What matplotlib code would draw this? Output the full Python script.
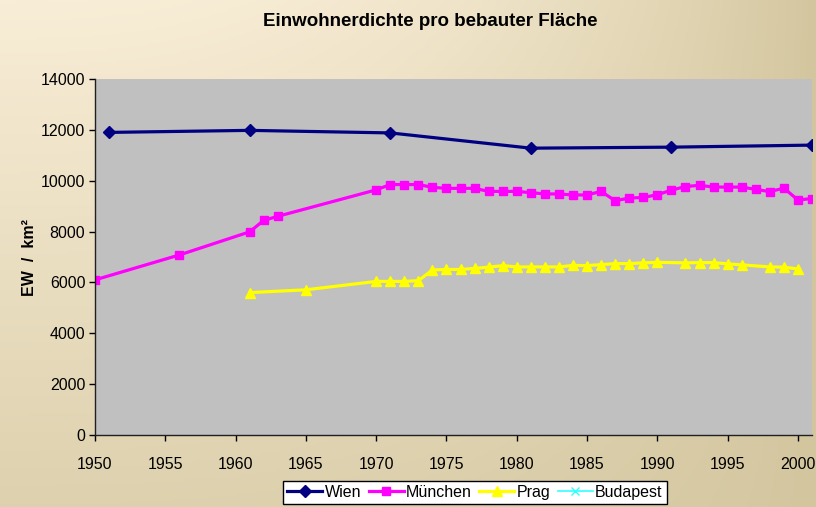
import numpy as np
import matplotlib
matplotlib.use("Agg")
import matplotlib.pyplot as plt
from matplotlib.colors import LinearSegmentedColormap

plt.rcParams['font.family'] = ['Liberation Sans', 'DejaVu Sans']

# ---- data ----
wien_years = [1951, 1961, 1971, 1981, 1991, 2001]
wien_vals = [11900, 11980, 11880, 11280, 11320, 11400]

muc_years = [1950, 1956, 1961, 1962, 1963, 1970, 1971, 1972, 1973, 1974, 1975, 1976,
             1977, 1978, 1979, 1980, 1981, 1982, 1983, 1984, 1985, 1986, 1987, 1988,
             1989, 1990, 1991, 1992, 1993, 1994, 1995, 1996, 1997, 1998, 1999, 2000, 2001]
muc_vals = [6100, 7080, 7990, 8440, 8600, 9640, 9850, 9850, 9850, 9740, 9700, 9700,
            9700, 9580, 9580, 9580, 9530, 9480, 9480, 9440, 9440, 9580, 9210, 9320,
            9340, 9450, 9630, 9770, 9820, 9750, 9750, 9750, 9660, 9570, 9710, 9240, 9300]

prag_years = [1961, 1965, 1970, 1971, 1972, 1973, 1974, 1975, 1976, 1977, 1978, 1979,
              1980, 1981, 1982, 1983, 1984, 1985, 1986, 1987, 1988, 1989, 1990, 1992,
              1993, 1994, 1995, 1996, 1998, 1999, 2000]
prag_vals = [5600, 5710, 6040, 6040, 6040, 6070, 6490, 6510, 6510, 6550, 6600, 6660,
             6610, 6610, 6610, 6610, 6670, 6660, 6700, 6740, 6740, 6770, 6790, 6770,
             6780, 6780, 6730, 6690, 6610, 6600, 6530]

buda_years = []
buda_vals = []

# ---- figure with gradient background ----
fig = plt.figure(figsize=(8.16, 5.07), dpi=100)
bg = fig.add_axes([0, 0, 1, 1], zorder=-10)
xx, yy = np.meshgrid(np.linspace(0, 1, 300), np.linspace(0, 1, 200))
t = 1 - (1 - xx ** 2.5) * (1 - 0.72 * yy)
cmap = LinearSegmentedColormap.from_list('bg', ['#F8EDD6', '#D3C69F'])
bg.imshow(t, cmap=cmap, aspect='auto', extent=[0, 1, 0, 1], origin='upper')
bg.axis('off')

ax = fig.add_axes([95 / 816, 1 - 435 / 507, (812 - 95) / 816, (435 - 79) / 507])
ax.set_facecolor('#C0C0C0')

ax.plot(wien_years, wien_vals, color='#000080', marker='D', markersize=6, lw=2.3, label='Wien')
ax.plot(muc_years, muc_vals, color='#FF00FF', marker='s', markersize=6, lw=2.3, label='München')
ax.plot(prag_years, prag_vals, color='#FFFF00', marker='^', markersize=6.5, lw=2.3, label='Prag')
ax.plot(buda_years, buda_vals, color='#33FFFF', marker='x', markersize=6, lw=1.2, label='Budapest')

ax.set_xlim(1950, 2001)
ax.set_ylim(0, 14000)
ax.set_xticks(range(1950, 2001, 5))
ax.set_yticks(range(0, 14001, 2000))
ax.tick_params(axis='both', direction='out', length=4, width=1, labelsize=11.5, colors='black')
ax.tick_params(axis='x', pad=12)
ax.tick_params(axis='y', pad=3)
for s in ['top', 'right']:
    ax.spines[s].set_visible(False)
for s in ['left', 'bottom']:
    ax.spines[s].set_color('#202020')
    ax.spines[s].set_linewidth(1)

ax.set_ylabel('EW  /  km²', fontsize=11.5, fontweight='bold', labelpad=3)

fig.text(430 / 816, 1 - 22 / 507, 'Einwohnerdichte pro bebauter Fläche',
         ha='center', va='center', fontsize=13.5, fontweight='bold')

leg = fig.legend(loc='upper center', bbox_to_anchor=(475 / 816, 1 - 473 / 507), ncol=4,
                 fontsize=11.5, frameon=True, fancybox=False, handlelength=2.2,
                 handletextpad=0.15, columnspacing=0.45, borderpad=0.25)
leg.get_frame().set_edgecolor('black')
leg.get_frame().set_facecolor('white')
leg.get_frame().set_alpha(1)
leg.get_frame().set_linewidth(1)

fig.savefig('out.png', dpi=100)
